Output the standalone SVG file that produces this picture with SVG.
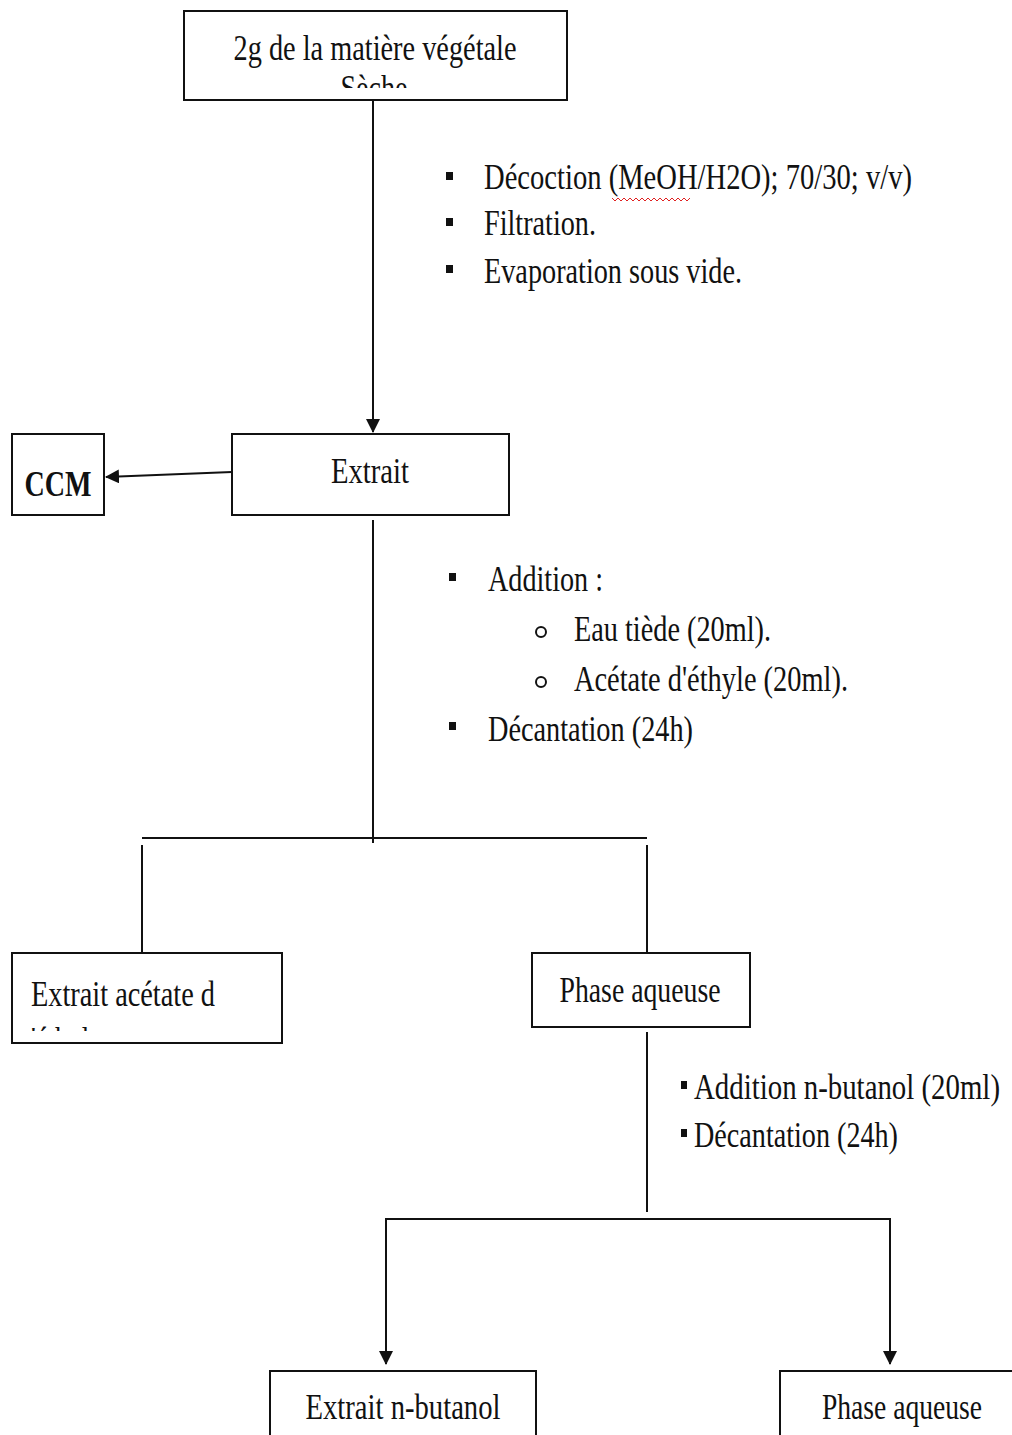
<svg xmlns="http://www.w3.org/2000/svg" width="1012" height="1435" viewBox="0 0 1012 1435">
<style>
.box{fill:#fff;stroke:#111;stroke-width:2}
.t{font-family:"Liberation Serif","Times New Roman",serif;font-size:35px;fill:#111}
.c{stroke:#111;stroke-width:2;fill:none}
.b{fill:#111}
.o{fill:none;stroke:#111;stroke-width:2}
</style>
<defs>
<marker id="ah" markerUnits="userSpaceOnUse" markerWidth="14" markerHeight="16" refX="13" refY="7" orient="auto">
<path d="M0,0 L14,7 L0,14 z" fill="#111"/>
</marker>
<clipPath id="clip1"><rect x="185" y="12" width="381" height="76"/></clipPath>
<clipPath id="clip2"><rect x="13" y="954" width="268" height="77"/></clipPath>
</defs>

<g id="connectors">
<line class="c" x1="373" y1="100" x2="373" y2="432" marker-end="url(#ah)"/>
<line class="c" x1="232" y1="472" x2="106" y2="477" marker-end="url(#ah)"/>
<line class="c" x1="373" y1="520" x2="373" y2="843"/>
<line class="c" x1="142" y1="838" x2="647" y2="838"/>
<line class="c" x1="142" y1="845" x2="142" y2="953"/>
<line class="c" x1="647" y1="845" x2="647" y2="953"/>
<line class="c" x1="647" y1="1032" x2="647" y2="1212"/>
<polyline class="c" points="386,1219 890,1219"/>
<line class="c" x1="386" y1="1218" x2="386" y2="1364" marker-end="url(#ah)"/>
<line class="c" x1="890" y1="1218" x2="890" y2="1364" marker-end="url(#ah)"/>
</g>

<g id="n-matiere">
<rect class="box" x="184" y="11" width="383" height="89"/>
<text class="t" x="375" y="60" text-anchor="middle" textLength="283" lengthAdjust="spacingAndGlyphs">2g de la matière végétale</text>
<text class="t" x="374" y="100" text-anchor="middle" textLength="67" lengthAdjust="spacingAndGlyphs" clip-path="url(#clip1)">Sèche</text>
</g>

<g id="n-extrait">
<rect class="box" x="232" y="434" width="277" height="81"/>
<text class="t" x="370" y="483" text-anchor="middle" textLength="78" lengthAdjust="spacingAndGlyphs">Extrait</text>
</g>

<g id="n-ccm">
<rect class="box" x="12" y="434" width="92" height="81"/>
<text class="t" x="58" y="496" text-anchor="middle" font-weight="bold" textLength="67" lengthAdjust="spacingAndGlyphs">CCM</text>
</g>

<g id="n-acetate">
<rect class="box" x="12" y="953" width="270" height="90"/>
<text class="t" x="31" y="1006" textLength="184" lengthAdjust="spacingAndGlyphs">Extrait acétate d</text>
<text class="t" x="31" y="1052" textLength="70" lengthAdjust="spacingAndGlyphs" clip-path="url(#clip2)">'éthyle</text>
</g>

<g id="n-phase1">
<rect class="box" x="532" y="953" width="218" height="74"/>
<text class="t" x="640" y="1002" text-anchor="middle" textLength="161" lengthAdjust="spacingAndGlyphs">Phase aqueuse</text>
</g>

<g id="n-butanol">
<rect class="box" x="270" y="1371" width="266" height="80"/>
<text class="t" x="403" y="1419" text-anchor="middle" textLength="195" lengthAdjust="spacingAndGlyphs">Extrait n-butanol</text>
</g>

<g id="n-phase2">
<rect class="box" x="780" y="1371" width="250" height="80"/>
<text class="t" x="902" y="1419" text-anchor="middle" textLength="160" lengthAdjust="spacingAndGlyphs">Phase aqueuse</text>
</g>

<g id="notes1">
<rect class="b" x="446" y="172" width="7" height="8"/>
<rect class="b" x="446" y="218" width="7" height="8"/>
<rect class="b" x="446" y="265" width="7" height="8"/>
<text class="t" x="484" y="189" textLength="428" lengthAdjust="spacingAndGlyphs">Décoction (MeOH/H2O); 70/30; v/v)</text>
<polyline points="612,198 615,201 618,198 621,201 624,198 627,201 630,198 633,201 636,198 639,201 642,198 645,201 648,198 651,201 654,198 657,201 660,198 663,201 666,198 669,201 672,198 675,201 678,198 681,201 684,198 687,201 690,198" fill="none" stroke="#e02020" stroke-width="1"/>
<text class="t" x="484" y="235" textLength="112" lengthAdjust="spacingAndGlyphs">Filtration.</text>
<text class="t" x="484" y="283" textLength="258" lengthAdjust="spacingAndGlyphs">Evaporation sous vide.</text>
</g>

<g id="notes2">
<rect class="b" x="449" y="573" width="7" height="8"/>
<circle class="o" cx="541" cy="632" r="5"/>
<circle class="o" cx="541" cy="682" r="5"/>
<rect class="b" x="449" y="722" width="7" height="8"/>
<text class="t" x="488" y="591" textLength="115" lengthAdjust="spacingAndGlyphs">Addition :</text>
<text class="t" x="574" y="641" textLength="197" lengthAdjust="spacingAndGlyphs">Eau tiède (20ml).</text>
<text class="t" x="574" y="691" textLength="274" lengthAdjust="spacingAndGlyphs">Acétate d'éthyle  (20ml).</text>
<text class="t" x="488" y="741" textLength="205" lengthAdjust="spacingAndGlyphs">Décantation (24h)</text>
</g>

<g id="notes3">
<rect class="b" x="681" y="1081" width="6" height="8"/>
<rect class="b" x="681" y="1129" width="6" height="8"/>
<text class="t" x="694" y="1099" textLength="306" lengthAdjust="spacingAndGlyphs">Addition n-butanol  (20ml)</text>
<text class="t" x="694" y="1147" textLength="204" lengthAdjust="spacingAndGlyphs">Décantation (24h)</text>
</g>
</svg>
